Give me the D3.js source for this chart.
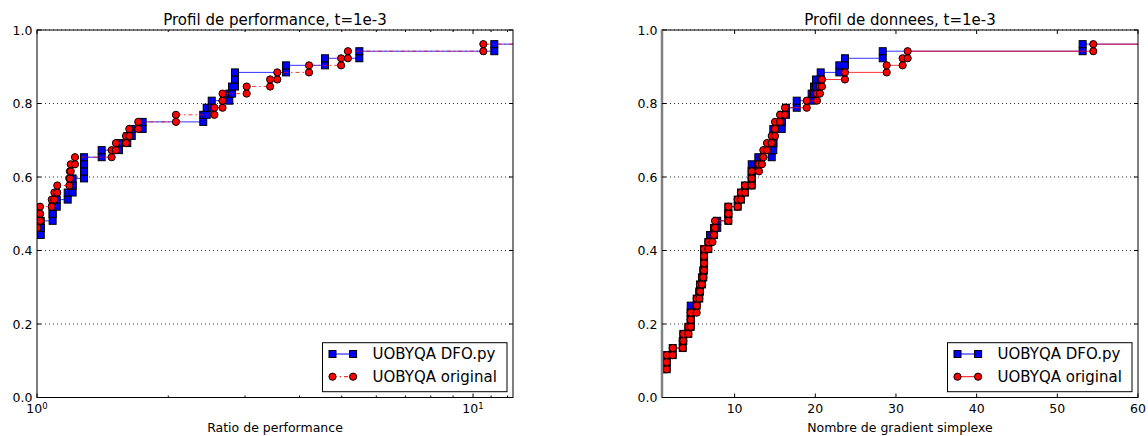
<!DOCTYPE html>
<html>
<head>
<meta charset="utf-8">
<script src="https://cdnjs.cloudflare.com/ajax/libs/d3/7.8.5/d3.min.js"></script>
<style>
  body { margin: 0; background: #fff; }
  text { font-family: "DejaVu Sans", sans-serif; fill: #000; }
</style>
</head>
<body>
<div id="chart"></div>
<script>
// number of test problems in the profile
var nProblems = 52;

// performance profile: problems solved at ratio 1, then the ratio of each next problem
var perfDfoStart = 23;
var perfDfo = [1.02, 1.02, 1.086, 1.086, 1.110, 1.176, 1.207, 1.207, 1.282, 1.282, 1.282,
  1.407, 1.542, 1.611, 1.649, 1.747, 2.406, 2.450, 2.516, 2.761, 2.801, 2.845, 2.845,
  3.725, 4.577, 5.486, 11.19];
var perfOrigStart = 24;
var perfOrig = [1.002, 1.016, 1.016, 1.081, 1.096, 1.113, 1.186, 1.190, 1.195, 1.222,
  1.483, 1.517, 1.600, 1.628, 1.707, 2.083, 2.552, 2.664, 2.664, 3.026, 3.425, 3.557,
  4.206, 4.983, 5.165, 10.56];

// data profile: number of simplex gradients
var dataDfoStart = 4;
var dataDfo = [1.58, 1.58, 2.33, 3.57, 3.64, 4.26, 4.56, 4.56, 4.56, 5.30, 5.62, 5.71,
  5.96, 6.12, 6.21, 6.21, 6.21, 6.74, 6.95, 7.45, 7.85, 9.22, 9.22, 10.38, 10.79, 11.29,
  12.12, 12.12, 12.12, 12.94, 14.60, 14.80, 14.80, 14.80, 15.84, 15.84, 16.37, 17.70,
  19.55, 19.84, 20.09, 20.67, 22.98, 23.68, 28.36, 53.14];
var dataOrigStart = 4;
var dataOrig = [1.58, 1.58, 2.33, 3.57, 3.64, 4.26, 4.56, 4.56, 5.30, 5.30, 5.62, 5.71,
  5.96, 6.12, 6.21, 6.21, 6.21, 6.74, 7.26, 7.45, 7.57, 9.22, 9.22, 10.38, 10.79, 11.29,
  12.12, 12.12, 13.02, 13.39, 13.56, 14.01, 14.60, 15.01, 15.01, 15.63, 16.25, 18.94,
  20.21, 20.58, 20.83, 23.68, 28.85, 30.83, 31.45, 54.46];

var yTicks = [0, 0.2, 0.4, 0.6, 0.8, 1.0];
var perfTicks = [1, 10];
var perfMinor = [2, 3, 4, 5, 6, 7, 8, 9, 11, 12];
var dataTicks = [10, 20, 30, 40, 50, 60];
var seriesNames = ["UOBYQA DFO.py", "UOBYQA original"];

var W = 1148, H = 436;
var svg = d3.select("#chart").append("svg")
  .attr("width", W)
  .attr("height", H)
  ;

// staircase points: vertical jump at each problem's value
function staircase(x0, start, values) {
  var pts = [[x0, start / nProblems]];
  values.forEach(function (v, i) {
    pts.push([v, (start + i) / nProblems], [v, (start + i + 1) / nProblems]);
  });
  return pts;
}

function drawPanel(p) {
  var x = p.x, y = d3.scaleLinear().domain([0, 1]).range([397.5, 30]);
  var x0 = x.range()[0], x1 = x.range()[1], y0 = y.range()[0], y1 = y.range()[1];
  var g = svg.append("g");

  var clipId = "clip" + p.id;
  svg.append("clipPath").attr("id", clipId)
    .append("rect")
    .attr("x", x0).attr("y", y1).attr("width", x1 - x0).attr("height", y0 - y1);

  // dotted grid
  g.selectAll(".grid").data(yTicks).enter().append("line")
    .attr("x1", x0).attr("x2", x1)
    .attr("y1", function (d) { return y(d); })
    .attr("y2", function (d) { return y(d); })
    .attr("stroke", "#000").attr("stroke-width", 0.8)
    .attr("stroke-dasharray", "1,3")
    ;

  var plot = g.append("g").attr("clip-path", "url(#" + clipId + ")");
  p.series.forEach(function (s) {
    var pts = staircase(x.domain()[0], s.start, s.values);
    var last = pts[pts.length - 1];
    var linePts = pts.concat([[x.domain()[1], last[1]]]);
    plot.append("path")
      .datum(linePts)
      .attr("d", d3.line().x(function (d) { return x(d[0]); }).y(function (d) { return y(d[1]); }))
      .attr("fill", "none")
      .attr("stroke", s.color)
      .attr("stroke-opacity", 0.8)
      .attr("stroke-width", 1)
      .attr("stroke-dasharray", s.dash || null)
      ;
    drawMarkers(plot, pts.map(function (d) { return [x(d[0]), y(d[1])]; }), s);
  });

  // spines
  g.append("rect")
    .attr("x", x0).attr("y", y1).attr("width", x1 - x0).attr("height", y0 - y1)
    .attr("fill", "none").attr("stroke", "#000").attr("stroke-width", 1)
    ;
  if (p.thickLeft) {
    g.append("line").attr("x1", x0).attr("x2", x0).attr("y1", y1).attr("y2", y0)
      .attr("stroke", "#808080").attr("stroke-width", 2.5);
  }

  // ticks, inward on all four sides
  yTicks.forEach(function (t) {
    g.append("line").attr("x1", x0).attr("x2", x0 + 4).attr("y1", y(t)).attr("y2", y(t)).attr("stroke", "#000");
    g.append("line").attr("x1", x1).attr("x2", x1 - 4).attr("y1", y(t)).attr("y2", y(t)).attr("stroke", "#000");
    g.append("text").text(t.toFixed(1))
      .attr("x", x0 - 4.5).attr("y", y(t)).attr("dy", "0.36em")
      .attr("text-anchor", "end").style("font-size", "12.5px");
  });
  p.ticks.forEach(function (t) {
    g.append("line").attr("x1", x(t)).attr("x2", x(t)).attr("y1", y0).attr("y2", y0 - 4).attr("stroke", "#000");
    g.append("line").attr("x1", x(t)).attr("x2", x(t)).attr("y1", y1).attr("y2", y1 + 4).attr("stroke", "#000");
  });
  (p.minor || []).forEach(function (t) {
    g.append("line").attr("x1", x(t)).attr("x2", x(t)).attr("y1", y0).attr("y2", y0 - 2).attr("stroke", "#000");
    g.append("line").attr("x1", x(t)).attr("x2", x(t)).attr("y1", y1).attr("y2", y1 + 2).attr("stroke", "#000");
  });
  p.ticks.forEach(function (t) {
    var lab = g.append("text")
      .attr("x", x(t)).attr("y", y0 + 15.5)
      .attr("text-anchor", "middle").style("font-size", "12.5px");
    if (p.log) {
      lab.append("tspan").text("10");
      lab.append("tspan").text(Math.round(Math.log10(t)))
        .attr("dy", "-4.5").style("font-size", "8.5px");
    } else {
      lab.text(t);
    }
  });

  // titles
  g.append("text").text(p.title)
    .attr("x", (x0 + x1) / 2).attr("y", 25)
    .attr("text-anchor", "middle").style("font-size", "15px");
  g.append("text").text(p.xlabel)
    .attr("x", (x0 + x1) / 2).attr("y", 431.5)
    .attr("text-anchor", "middle").style("font-size", "12.5px");

  // legend
  var lx = x1 - 190.5, ly = 342.7;
  var leg = g.append("g");
  leg.append("rect")
    .attr("x", lx).attr("y", ly).attr("width", 184.5).attr("height", 49)
    .attr("fill", "#fff").attr("stroke", "#000").attr("stroke-width", 1);
  p.series.forEach(function (s, i) {
    var yy = ly + 11.3 + i * 22.7;
    leg.append("line")
      .attr("x1", lx + 10).attr("x2", lx + 30.6).attr("y1", yy).attr("y2", yy)
      .attr("stroke", s.color).attr("stroke-width", 1)
      .attr("stroke-dasharray", s.dash || null);
    drawMarkers(leg, [[lx + 10, yy], [lx + 30.6, yy]], s);
    leg.append("text").text(seriesNames[i])
      .attr("x", lx + 50).attr("y", yy).attr("dy", "0.36em")
      .style("font-size", "15px");
  });
}

function drawMarkers(sel, pts, s) {
  if (s.shape === "square") {
    sel.selectAll(null).data(pts).enter().append("rect")
      .attr("x", function (d) { return d[0] - 3.5; })
      .attr("y", function (d) { return d[1] - 3.5; })
      .attr("width", 7).attr("height", 7)
      .attr("fill", s.color).attr("stroke", "#000").attr("stroke-width", 1);
  } else {
    sel.selectAll(null).data(pts).enter().append("circle")
      .attr("cx", function (d) { return d[0]; })
      .attr("cy", function (d) { return d[1]; })
      .attr("r", 3.6)
      .attr("fill", s.color).attr("stroke", "#000").attr("stroke-width", 1);
  }
}

drawPanel({
  id: "perf",
  x: d3.scaleLog().domain([1, 12.35]).range([37, 513]),
  log: true,
  ticks: perfTicks,
  minor: perfMinor,
  title: "Profil de performance, t=1e-3",
  xlabel: "Ratio de performance",
  series: [
    { start: perfDfoStart, values: perfDfo, color: "#0000ff", shape: "square" },
    { start: perfOrigStart, values: perfOrig, color: "#ff0000", shape: "circle", dash: "4,3,1.5,3" }
  ]
});

drawPanel({
  id: "data",
  x: d3.scaleLinear().domain([1, 60]).range([662, 1138]),
  log: false,
  thickLeft: true,
  ticks: dataTicks,
  title: "Profil de donnees, t=1e-3",
  xlabel: "Nombre de gradient simplexe",
  series: [
    { start: dataDfoStart, values: dataDfo, color: "#0000ff", shape: "square" },
    { start: dataOrigStart, values: dataOrig, color: "#ff0000", shape: "circle" }
  ]
});
</script>
</body>
</html>
